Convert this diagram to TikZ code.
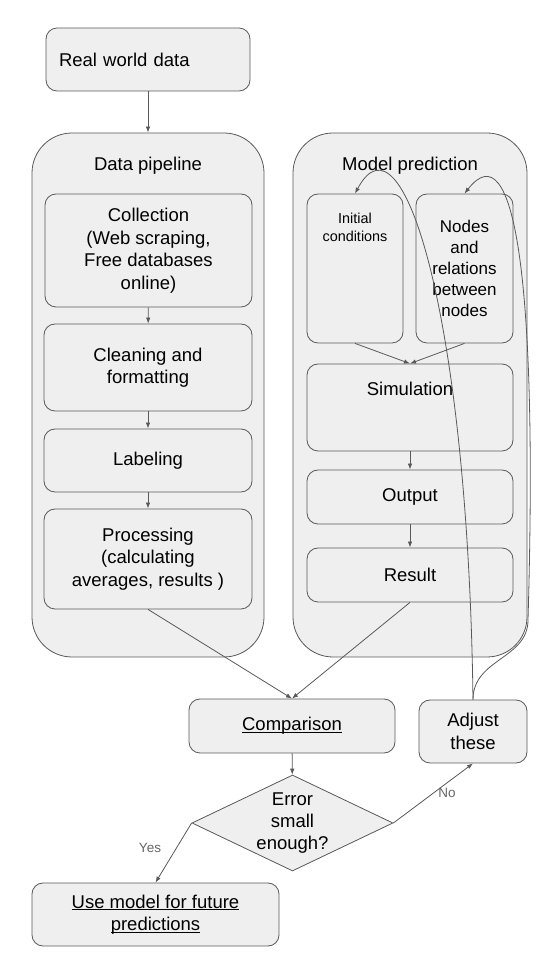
\documentclass[tikz,border=0pt]{standalone}
\usepackage{fontspec}
\setmainfont{Liberation Sans}
\usepackage{tikz}
\usetikzlibrary{shapes.geometric, arrows.meta}
\definecolor{boxfill}{HTML}{EFEFEF}
\definecolor{linegray}{HTML}{595959}
\definecolor{labelgray}{HTML}{666666}
\tikzstyle{arrow} = [draw=linegray, line width=0.8pt, -{Latex[length=6pt, width=4.5pt]}]
\newcommand{\undertext}[1]{\underline{\smash{#1}}\vphantom{#1}}

\begin{document}
\begin{tikzpicture}[x=1pt, y=1pt,
        % Define styles for the boxes, the groups and the decision
        flow_box/.style={draw=linegray, line width=0.8pt, fill=boxfill, rounded corners=11pt, align=center, inner sep=0pt, font=\fontsize{18.5}{22.5}\selectfont},
        group_box/.style={flow_box, rounded corners=40pt},
        top_text/.style={anchor=north, inner sep=0pt, align=center, font=\fontsize{18.5}{22.5}\selectfont},
        decision/.style={diamond, draw=linegray, line width=0.8pt, fill=boxfill, aspect=2.09, inner sep=0pt, align=center, font=\fontsize{18.5}{22}\selectfont},
        answer/.style={text=labelgray, inner sep=0pt, font=\fontsize{13.5}{16}\selectfont}
    ]
        \useasboundingbox (0,0) rectangle (540,959);

        % --- Source of the data ---
        \node (real_data) [flow_box, minimum width=204pt, minimum height=63pt, text width=178pt, align=left] at (148, 899.5) {Real world data};

        % --- Draw the two group frames at fixed positions ---
        \node (pipeline) [group_box, minimum width=232pt, minimum height=524pt] at (148, 564) {};
        \node (pipeline_title) [top_text, anchor=center] at (148, 793) {Data pipeline};

        \node (model) [group_box, minimum width=234pt, minimum height=524pt] at (410, 564) {};
        \node (model_title) [top_text, anchor=center] at (410, 793) {Model prediction};

        % --- Steps of the data pipeline ---
        \node (collection) [flow_box, minimum width=207pt, minimum height=113pt] at (148.5, 708.5) {Collection\\(Web scraping,\\Free databases\\online)};
        \node (cleaning)   [flow_box, minimum width=208pt, minimum height=87pt] at (148, 591.5) {Cleaning and\\formatting};
        \node (labeling)   [flow_box, minimum width=208pt, minimum height=63pt] at (148, 498.5) {Labeling};
        \node (processing) [flow_box, minimum width=208pt, minimum height=100pt] at (148, 400) {Processing\\(calculating\\averages, results )};

        % --- Steps of the model prediction ---
        \node (initial) [flow_box, minimum width=96pt, minimum height=149pt,
            label={[top_text, yshift=-19pt, font=\fontsize{14.4}{18}\selectfont]north:Initial\\conditions}] at (355, 690.5) {};
        \node (relations) [flow_box, minimum width=97pt, minimum height=149pt, font=\fontsize{17}{21}\selectfont] at (464.5, 690.5) {Nodes\\and\\relations\\between\\nodes};
        \node (simulation) [flow_box, minimum width=206pt, minimum height=87pt,
            label={[top_text, yshift=-18pt]north:Simulation}] at (410, 551.5) {};
        \node (output) [flow_box, minimum width=206pt, minimum height=54pt] at (410, 462) {Output};
        \node (result) [flow_box, minimum width=206pt, minimum height=54pt] at (410, 384) {Result};

        % --- Comparison and decision ---
        \node (comparison) [flow_box, minimum width=206pt, minimum height=54pt] at (292, 233) {\undertext{Comparison}};
        \node (adjust) [flow_box, minimum width=108pt, minimum height=63pt] at (473, 227.5) {Adjust\\these};
        \node (error_check) [decision, minimum width=201pt, minimum height=96pt] at (292.5, 136) {Error\\small\\enough?};
        \node (use_model) [flow_box, minimum width=247pt, minimum height=63pt] at (155.5, 44.5) {\undertext{Use model for future}\\\undertext{predictions}};

        % --- Arrows between the boxes ---
        \draw[arrow] (real_data) -- (pipeline);
        \draw[arrow] (collection) -- (cleaning);
        \draw[arrow] (cleaning) -- (labeling);
        \draw[arrow] (labeling) -- (processing);

        \draw[arrow] (initial.south) -- (simulation.north);
        \draw[arrow] (relations.south) -- (simulation.north);
        \draw[arrow] (simulation) -- (output);
        \draw[arrow] (output) -- (result);

        \draw[arrow] (processing.south) -- (comparison.north);
        \draw[arrow] (result.south) -- (comparison.north);
        \draw[arrow] (comparison) -- (error_check);

        \draw[arrow] (error_check.west) -- (use_model.north);
        \node (yes_label) [answer] at (150, 111) {Yes};
        \draw[arrow] (error_check.east) -- (adjust.south);
        \node (no_label) [answer] at (447, 166) {No};

        % --- Feedback curves back into the model ---
        \draw[arrow] (adjust.north) .. controls +(-5,381) and +(48,90) .. (initial.north);
        \coordinate (swing) at (528, 339);
        \draw[arrow] (adjust.north) .. controls +(0,41) and +(0,-39) .. (swing)
            .. controls +(10,341) and +(50,64) .. (relations.north);

    \end{tikzpicture}
\end{document}
